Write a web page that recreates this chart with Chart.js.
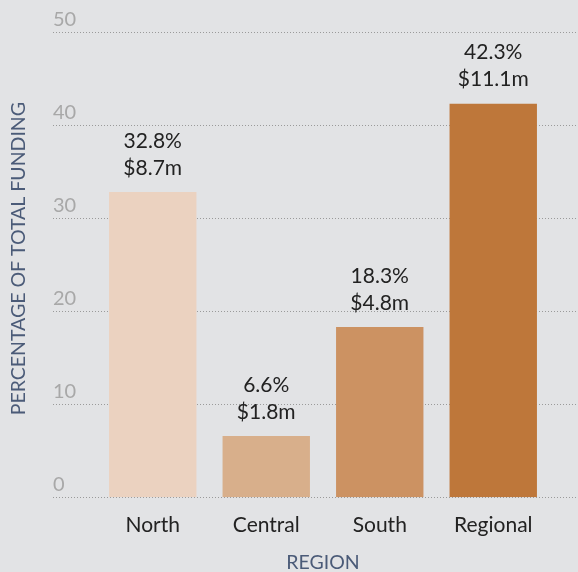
<!DOCTYPE html>
<html>
<head>
    <title>Funding by region</title>
    <script src="https://cdn.jsdelivr.net/npm/chart.js"></script>
    <style>
        body { margin: 0; background: #e2e3e5; }
        #chart { display: block; }
    </style>
</head>
<body>
    <canvas id="chart" width="578" height="572"></canvas>
    <script>
        var regions = ['North', 'Central', 'South', 'Regional'];
        var percentages = [32.8, 6.6, 18.3, 42.3];
        var funding = ['$8.7m', '$1.8m', '$4.8m', '$11.1m'];
        var barColors = ['#ebd2c0', '#d8af8b', '#cc9262', '#be773a'];
        var yTicks = [0, 10, 20, 30, 40, 50];

        var font = 'Lato, "Noto Sans", sans-serif';

        // dotted grid + tick labels sitting above each line
        var gridPlugin = {
            id: 'grid',
            beforeDatasetsDraw: function (chart) {
                var ctx = chart.ctx;
                var y = chart.scales.y;
                ctx.save();
                ctx.strokeStyle = '#9a9a9a';
                ctx.lineWidth = 1;
                ctx.setLineDash([1, 2]);
                ctx.fillStyle = '#a8a8a8';
                ctx.font = '20px ' + font;
                ctx.textAlign = 'left';
                ctx.textBaseline = 'alphabetic';
                yTicks.forEach(function (t) {
                    var py = Math.round(y.getPixelForValue(t)) + 0.5;
                    ctx.beginPath();
                    ctx.moveTo(53, py);
                    ctx.lineTo(chart.width, py);
                    ctx.stroke();
                    ctx.fillText(String(t), 53, py - 7);
                });
                ctx.restore();
            }
        };

        var labelPlugin = {
            id: 'barLabels',
            afterDatasetsDraw: function (chart) {
                var ctx = chart.ctx;
                var meta = chart.getDatasetMeta(0);
                ctx.save();
                ctx.fillStyle = '#222';
                ctx.font = '21px ' + font;
                ctx.textAlign = 'center';
                ctx.textBaseline = 'middle';
                meta.data.forEach(function (bar, i) {
                    ctx.fillText(funding[i], bar.x, bar.y - 24);
                    ctx.fillText(percentages[i].toFixed(1) + '%', bar.x, bar.y - 51);
                });
                ctx.restore();
            }
        };

        var yTitlePlugin = {
            id: 'yTitle',
            afterDraw: function (chart) {
                var ctx = chart.ctx;
                var area = chart.chartArea;
                ctx.save();
                ctx.translate(19, (area.top + area.bottom) / 2 - 6);
                ctx.rotate(-Math.PI / 2);
                ctx.fillStyle = '#4b5b78';
                ctx.font = '19.5px ' + font;
                ctx.textAlign = 'center';
                ctx.textBaseline = 'middle';
                ctx.fillText('PERCENTAGE OF TOTAL FUNDING', 0, 0);
                ctx.restore();
            }
        };

        new Chart(document.getElementById('chart').getContext('2d'), {
            type: 'bar',
            data: {
                labels: regions,
                datasets: [{
                    data: percentages,
                    backgroundColor: barColors,
                    borderWidth: 0,
                    categoryPercentage: 0.77,
                    barPercentage: 1
                }]
            },
            options: {
                responsive: false,
                animation: false,
                layout: { padding: { left: 96, right: 28, top: 32, bottom: 0 } },
                plugins: {
                    legend: { display: false },
                    tooltip: { enabled: false }
                },
                scales: {
                    y: {
                        display: false,
                        min: 0,
                        max: 50
                    },
                    x: {
                        grid: { display: false, drawTicks: false },
                        border: { display: false },
                        ticks: {
                            color: '#222',
                            font: { family: font, size: 21 },
                            padding: 15
                        },
                        title: {
                            display: true,
                            text: 'REGION',
                            color: '#4b5b78',
                            font: { family: font, size: 19.5, lineHeight: 1 },
                            padding: { top: 0, bottom: 0 }
                        }
                    }
                }
            },
            plugins: [gridPlugin, labelPlugin, yTitlePlugin]
        });
    </script>
</body>
</html>
